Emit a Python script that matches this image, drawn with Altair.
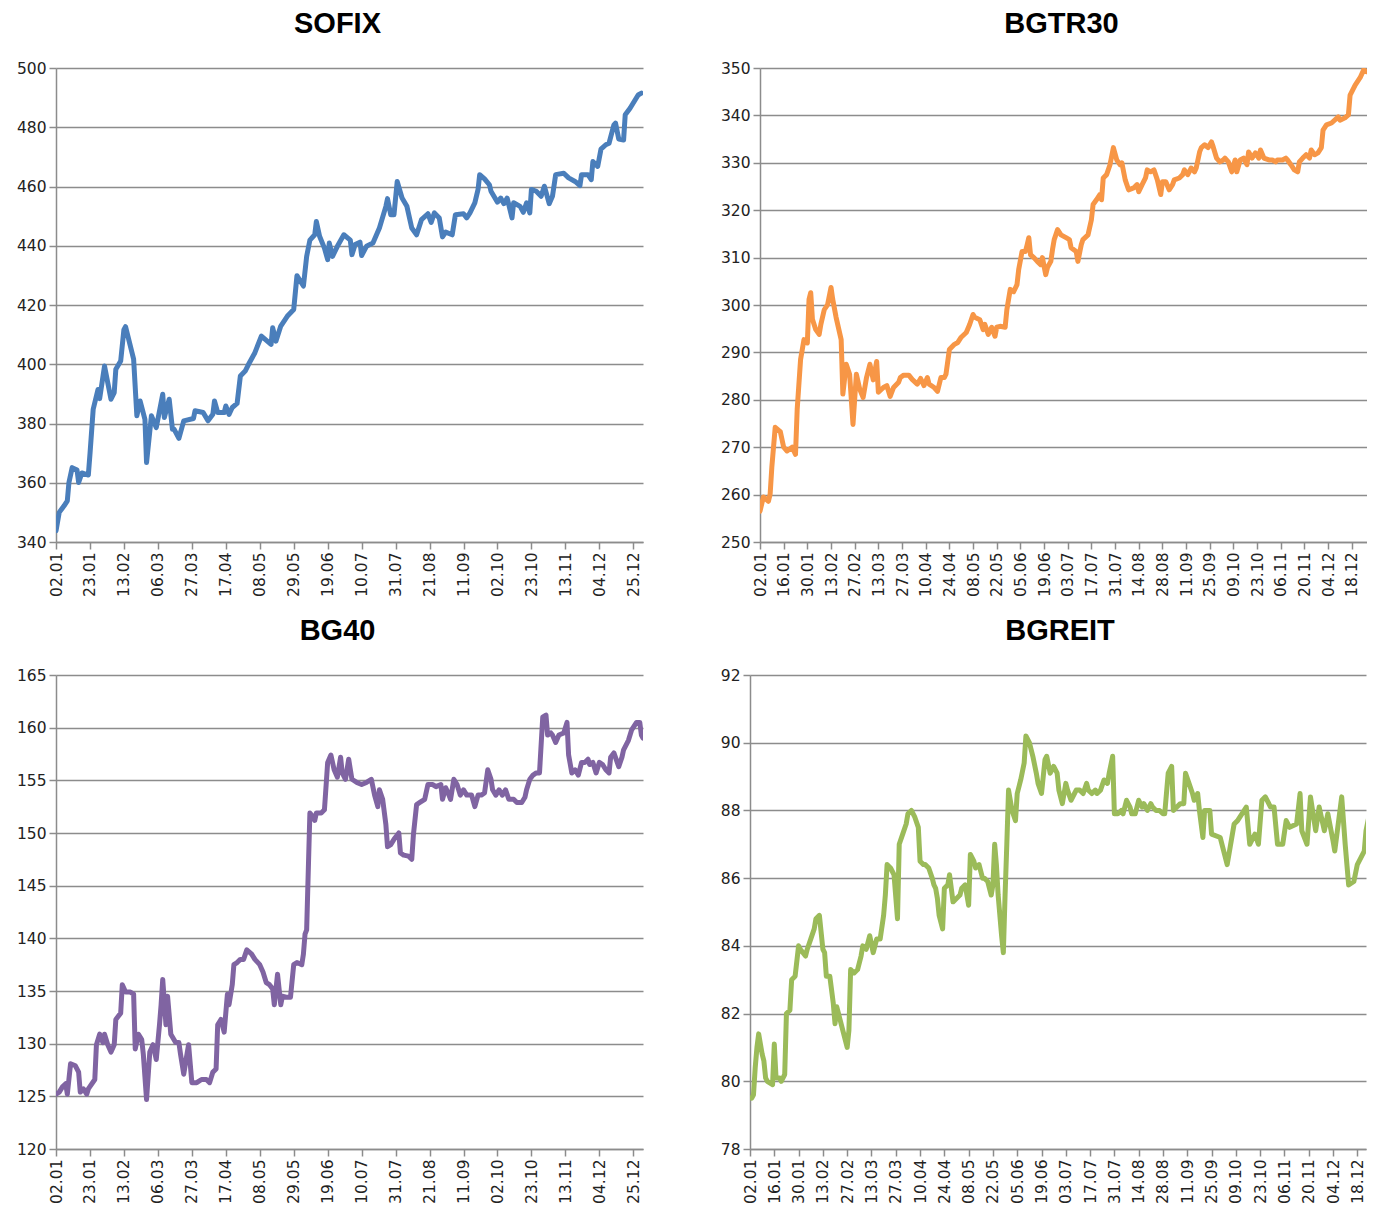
import altair as alt
import pandas as pd

YEAR = 2013
START = "2013-01-02"

# ---------------- data (day offset from 02.01, index value) ----------------
sofix_days = [0,2,5,7,8,10,13,14,16,20,21,23,26,27,30,34,36,37,40,42,43,48,50,52,55,56,59,62,66,67,
              70,72,73,76,79,85,86,91,94,97,98,100,104,105,107,109,112,114,117,119,123,127,133,134,136,139,143,147,149,153,
              155,157,160,161,163,166,168,169,171,174,178,182,183,185,188,189,192,196,200,204,205,207,209,211,214,217,220,223,226,230,
              232,234,237,239,241,245,247,252,254,256,259,261,262,265,268,269,273,275,277,279,282,283,287,289,291,293,294,297,300,302,
              305,307,309,314,317,321,324,325,329,331,332,335,337,340,342,345,346,348,351,352,355,360,362]
sofix_vals = [343.8,350.0,352.2,353.9,360.1,365.1,364.3,360.1,363.3,362.6,369.6,384.8,391.5,388.4,399.4,388.2,390.4,398.3,401.1,411.7,
              412.7,401.7,382.6,387.6,381.4,366.8,382.6,378.6,389.9,382.0,388.2,378.1,378.1,375.0,380.9,381.7,384.3,383.7,380.9,383.1,
              387.6,383.7,383.7,385.9,383.1,385.4,386.8,396.0,397.7,399.9,403.9,409.5,406.7,412.3,407.8,412.9,416.2,418.5,429.9,426.4,
              436.4,441.9,443.7,448.2,443.2,439.2,435.3,440.9,436.4,439.8,443.7,441.9,437.0,440.4,441.2,436.7,439.8,440.9,446.0,453.3,
              455.9,450.5,450.5,461.7,456.1,453.3,446.0,443.7,448.8,450.8,447.9,451.1,449.4,443.0,444.6,443.7,450.5,450.8,449.4,451.1,
              454.5,459.0,464.0,462.6,460.6,458.4,454.7,456.1,454.2,456.1,449.4,454.5,453.3,451.3,454.5,451.1,459.0,458.4,456.7,460.1,
              454.2,456.7,464.0,464.5,462.9,461.7,460.3,464.0,464.0,462.3,468.4,466.8,472.6,474.1,474.6,480.8,481.4,476.0,475.7,484.2,
              486.4,490.9,491.5]

bgtr30_days = [0,2,5,6,7,9,12,14,16,19,21,22,24,26,28,29,30,31,33,35,36,38,40,42,43,45,48,49,51,53,
               55,57,59,61,63,65,67,69,70,73,75,77,79,82,83,85,88,90,93,95,97,99,100,103,105,107,109,110,112,115,
               117,119,122,124,126,127,130,132,133,135,137,139,140,142,145,146,148,150,152,153,155,157,158,159,160,162,164,166,167,169,
               170,172,173,174,176,178,181,183,184,187,188,190,191,194,196,197,199,201,202,203,205,207,209,211,213,214,216,218,221,223,
               224,226,228,229,231,233,235,237,238,240,242,244,245,248,250,251,253,255,257,258,260,261,263,265,267,268,270,272,274,275,
               277,279,281,282,284,286,288,289,291,293,295,296,298,301,303,305,306,309,311,312,314,316,318,319,321,323,325,326,328,330,
               332,333,335,338,342,343,346,348,349,352,355,357,359,361]
bgtr30_vals = [256.5,259.5,258.6,260.1,265.8,274.2,273.3,270.0,269.2,270.0,268.5,278.0,288.5,292.7,292.0,301.2,302.6,297.0,294.8,293.8,
               295.9,299.0,300.1,303.7,301.2,297.4,292.7,281.2,287.5,285.4,274.8,285.4,282.2,280.5,284.7,287.5,284.2,288.1,281.6,282.6,
               283.0,280.7,282.6,283.7,284.7,285.2,285.2,284.3,283.3,284.5,283.0,284.7,283.3,282.6,281.8,284.7,284.7,285.4,290.6,291.7,
               292.1,293.2,294.2,295.9,298.0,297.4,296.9,294.8,295.9,293.8,295.3,293.4,295.3,295.5,295.3,299.0,303.3,302.8,304.3,307.5,
               311.3,311.3,312.7,314.2,310.6,310.0,309.2,308.5,310.0,306.4,307.9,309.2,311.7,313.8,315.9,314.8,314.2,313.8,312.1,311.3,
               309.2,312.7,313.8,314.8,318.0,321.2,322.2,323.3,322.2,326.8,327.5,329.6,333.2,330.6,329.6,330.0,326.4,324.3,324.7,325.4,
               323.9,325.4,326.8,328.5,328.1,328.5,326.4,323.3,326.0,326.0,324.3,325.4,326.4,326.8,327.5,328.5,327.5,328.9,328.1,328.9,
               332.3,333.2,333.8,333.2,334.4,333.4,331.0,330.2,330.6,331.0,330.2,328.1,330.6,328.1,330.6,331.0,329.6,332.3,331.0,332.1,
               331.0,332.7,331.0,330.6,330.6,330.2,330.6,330.6,331.0,330.6,329.6,328.5,328.1,330.2,331.0,331.7,331.0,332.7,331.7,332.1,
               333.2,336.9,338.0,338.4,339.7,339.0,339.5,340.1,344.3,346.4,348.0,349.6,349.2,348.9]

bg40_days = [0,2,4,6,7,9,12,14,15,17,19,20,24,25,27,29,30,32,34,36,37,40,41,43,46,48,49,51,53,54,
             56,58,60,62,64,65,66,68,69,71,74,76,77,79,81,82,84,87,90,93,95,97,99,100,102,104,106,107,109,110,
             112,114,116,118,121,123,126,128,130,132,134,135,137,139,140,143,145,147,149,152,153,154,155,157,158,160,161,164,166,168,
             170,172,174,176,177,179,181,183,186,189,192,195,197,199,200,202,204,205,207,209,212,213,215,218,220,221,223,225,228,230,
             233,235,238,239,241,243,244,246,248,250,252,254,257,259,261,263,265,267,269,270,272,274,276,278,280,283,285,288,290,291,
             293,295,297,299,301,303,304,306,307,309,311,314,316,317,319,321,323,325,327,329,330,332,334,336,338,340,342,343,345,348,
             350,351,354,356,359,361,362,363]
bg40_vals = [125.2,125.4,125.9,126.2,125.2,128.1,127.9,127.3,125.4,125.7,125.2,125.7,126.6,129.9,130.9,130.1,130.9,129.9,129.2,129.9,
             132.3,132.9,135.6,134.9,134.9,134.7,129.5,130.9,130.4,129.0,124.7,129.2,129.9,128.5,131.8,133.7,136.1,131.8,134.5,130.9,
             130.1,130.1,129.0,127.1,129.0,129.9,126.3,126.3,126.6,126.6,126.3,127.3,127.6,131.8,132.3,131.1,134.7,133.7,135.6,137.5,
             137.7,138.0,138.0,138.9,138.5,138.0,137.5,136.8,135.8,135.6,135.2,133.7,136.6,133.7,134.5,134.4,134.4,137.5,137.7,137.5,
             138.5,140.4,140.8,151.9,151.7,151.2,151.9,151.9,152.2,156.7,157.4,156.0,155.3,157.2,155.7,155.1,157.0,155.1,154.8,154.6,
             154.8,155.1,153.6,152.5,154.1,153.2,150.8,148.7,148.9,149.4,150.0,148.1,147.9,147.8,147.5,149.8,152.7,152.9,153.2,154.6,
             154.6,154.4,154.6,153.2,154.3,153.6,153.2,155.1,154.6,153.6,154.1,153.6,153.6,152.5,153.6,153.6,153.8,156.0,155.1,154.1,
             153.6,154.1,153.6,154.1,153.2,153.2,152.9,152.9,153.4,154.1,155.1,155.5,155.7,155.7,161.0,161.2,159.3,159.5,159.3,158.6,
             159.3,159.5,160.5,157.4,155.7,156.0,155.5,156.7,156.7,157.0,156.5,156.7,155.7,156.7,156.5,156.0,155.7,157.2,157.6,156.3,
             157.2,157.9,158.8,159.8,160.5,160.5,159.3,159.0]

bgreit_days = [1,2,3,4,5,7,8,9,10,13,14,15,17,18,20,21,23,24,26,28,29,32,33,35,37,38,40,42,43,44,
               46,48,49,50,52,54,56,57,58,60,62,64,65,67,69,71,73,75,77,78,79,81,83,85,86,88,90,91,93,95,
               97,98,100,101,103,105,106,107,108,109,111,112,114,115,117,119,121,122,124,126,127,129,130,132,134,135,137,139,140,141,
               142,143,145,146,147,148,149,151,153,154,156,158,159,161,163,165,166,168,170,171,173,175,177,178,180,182,183,185,187,188,
               190,192,194,195,197,199,200,202,204,206,207,209,210,212,214,215,217,219,220,222,224,226,227,229,231,232,234,236,238,239,
               241,243,244,246,248,250,251,253,255,256,258,259,261,262,265,266,271,273,275,279,281,286,288,291,293,295,297,300,302,304,
               307,309,311,315,317,318,321,323,326,328,331,333,336,337,341,343,345,348,350,352,354,355,357]
bgreit_vals = [79.5,79.6,80.4,81.0,81.4,80.8,80.6,80.1,80.0,79.9,81.1,80.1,80.1,80.0,80.2,82.0,82.1,83.0,83.1,84.0,
               83.9,83.7,83.9,84.2,84.5,84.8,84.9,83.9,83.8,83.1,83.1,82.3,81.7,82.2,81.8,81.4,81.0,81.5,83.3,83.2,
               83.3,83.7,84.0,83.9,84.3,83.8,84.2,84.2,84.9,85.5,86.4,86.3,86.1,84.8,87.0,87.3,87.6,87.9,88.0,87.8,
               87.5,86.5,86.4,86.4,86.3,86.0,85.8,85.7,85.4,84.9,84.5,85.7,85.8,86.1,85.3,85.4,85.5,85.7,85.8,85.2,
               86.7,86.5,86.3,86.4,86.0,86.0,85.9,85.5,85.8,87.0,86.4,85.5,84.3,83.8,85.5,87.0,88.6,88.0,87.7,88.5,
               88.9,89.4,90.2,90.0,89.6,89.1,88.8,88.5,89.5,89.6,89.1,89.3,89.1,88.6,88.2,88.8,88.6,88.3,88.5,88.6,
               88.6,88.5,88.8,88.6,88.5,88.6,88.5,88.6,88.9,88.8,89.1,89.6,87.9,87.9,88.0,87.9,88.3,88.1,87.9,87.9,
               88.3,88.1,88.2,88.0,88.2,88.1,88.0,88.0,87.9,87.9,89.1,89.3,88.0,88.1,88.2,88.2,89.1,88.8,88.5,88.3,
               88.5,88.0,87.2,88.0,88.0,87.3,87.2,86.8,86.4,87.6,87.7,88.1,87.0,87.3,87.0,88.3,88.4,88.1,88.1,87.0,
               87.0,87.7,87.5,87.6,88.5,87.4,87.0,88.4,87.4,88.1,87.4,87.9,87.1,86.8,88.4,87.0,85.8,85.9,86.4,86.6,
               86.8,87.4,87.9]

# tick labels
left_ticks = ["02.01","23.01","13.02","06.03","27.03","17.04","08.05","29.05","19.06",
              "10.07","31.07","21.08","11.09","02.10","23.10","13.11","04.12","25.12"]
right_ticks = ["02.01","16.01","30.01","13.02","27.02","13.03","27.03","10.04","24.04",
               "08.05","22.05","05.06","19.06","03.07","17.07","31.07","14.08","28.08",
               "11.09","25.09","09.10","23.10","06.11","20.11","04.12","18.12"]

sofix_y = list(range(340, 501, 20))
bgtr30_y = list(range(250, 351, 10))
bg40_y = list(range(120, 166, 5))
bgreit_y = list(range(78, 93, 2))

GRID = "#8c8c8c"
LABEL = "#222222"


def dt(label):
    d, m = label.split(".")
    return alt.DateTime(year=YEAR, month=int(m), date=int(d), utc=True)


def frame(days, vals):
    n = min(len(days), len(vals))
    dates = pd.Timestamp(START) + pd.to_timedelta(days[:n], unit="D")
    return pd.DataFrame({"date": dates.strftime("%Y-%m-%d"), "value": vals[:n]})


def panel(days, vals, title, color, yvals, ticks, xend, width, height, dx):
    df = frame(days, vals)
    return alt.Chart(df).mark_line(
        color=color, strokeWidth=5, clip=True, strokeJoin="round", strokeCap="round"
    ).encode(
        x=alt.X("date:T", title=None,
                scale=alt.Scale(type="utc", domain=[dt("02.01"), dt(xend)]),
                axis=alt.Axis(values=[dt(t) for t in ticks], format="%d.%m", labelAngle=270,
                              grid=False, tickSize=7, labelPadding=3, labelOverlap=False,
                              labelFlush=False)),
        y=alt.Y("value:Q", title=None,
                scale=alt.Scale(domain=[yvals[0], yvals[-1]], nice=False, zero=False),
                axis=alt.Axis(values=yvals, grid=True, tickSize=7, labelPadding=3,
                              labelOverlap=False, format="d")),
    ).properties(
        width=width, height=height,
        title=alt.TitleParams(title, font="Liberation Sans", fontSize=29, fontWeight="bold",
                              color="#000000", anchor="middle", offset=22, dx=dx),
    )


p1 = panel(sofix_days, sofix_vals, "SOFIX", "#4a7ebb", sofix_y, left_ticks, "31.12", 587, 474, -12)
p2 = panel(bgtr30_days, bgtr30_vals, "BGTR30", "#f79646", bgtr30_y, right_ticks, "27.12", 607, 474, -2)
p3 = panel(bg40_days, bg40_vals, "BG40", "#8064a2", bg40_y, left_ticks, "31.12", 587, 474, -12)
p4 = panel(bgreit_days, bgreit_vals, "BGREIT", "#9bbb59", bgreit_y, right_ticks, "23.12", 616, 474, 2)

chart = alt.vconcat(
    alt.hconcat(p1, p2, spacing=77),
    alt.hconcat(p3, p4, spacing=77),
    spacing=20,
).properties(
    padding={"left": 8, "top": 2, "right": 0, "bottom": 0}
).configure_view(
    stroke=None
).configure_axis(
    domainColor=GRID, domainWidth=1.5, tickColor=GRID, tickWidth=1.5,
    gridColor=GRID, gridWidth=1.5,
    labelFont="DejaVu Sans", labelFontSize=15.5, labelColor=LABEL,
)

chart.save("out.html", embed_options={"renderer": "svg", "actions": False})
